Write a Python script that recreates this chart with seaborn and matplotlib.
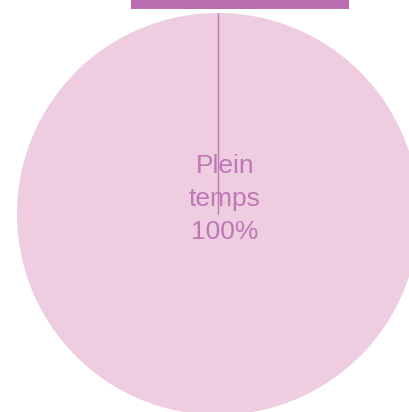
import matplotlib
matplotlib.use("Agg")
import matplotlib.pyplot as plt
import seaborn as sns

# data
categories = ["Plein temps"]
values = [100]
title = "Temps de travail"

pie_color = "#EFCDE1"
accent = "#BF77B5"
box_color = "#BA6EAF"

sns.set_style("white")
plt.rcParams['font.family'] = ['Liberation Sans Narrow', 'Liberation Sans', 'DejaVu Sans']

fig = plt.figure(figsize=(4.10, 4.12), dpi=100)
ax = fig.add_axes([17 / 410, -3 / 412, 402 / 410, 402 / 412])

ax.pie(values, colors=[pie_color], startangle=90, counterclock=False,
       wedgeprops=dict(linewidth=0), radius=1.0)
ax.set_xlim(-1, 1)
ax.set_ylim(-1, 1)
ax.set_aspect("equal")
ax.axis("off")

# radial separator of the single slice
ax.plot([0, 0], [0, 1], color=accent, linewidth=1)

total = sum(values)
for cat, v in zip(categories, values):
    ax.text(0.035, 0.075, "{}\n{:.0f}%".format(cat.replace(" ", "\n"), 100 * v / total),
            ha="center", va="center", fontsize=19, color=accent, linespacing=1.48)

fig.text(240 / 410, 1 + 2 / 412, title, ha="center", va="bottom", fontsize=18,
         color="white", fontweight="bold",
         bbox=dict(boxstyle="square,pad=0.45", facecolor=box_color, edgecolor="none"))

fig.savefig("out.png", dpi=100)
